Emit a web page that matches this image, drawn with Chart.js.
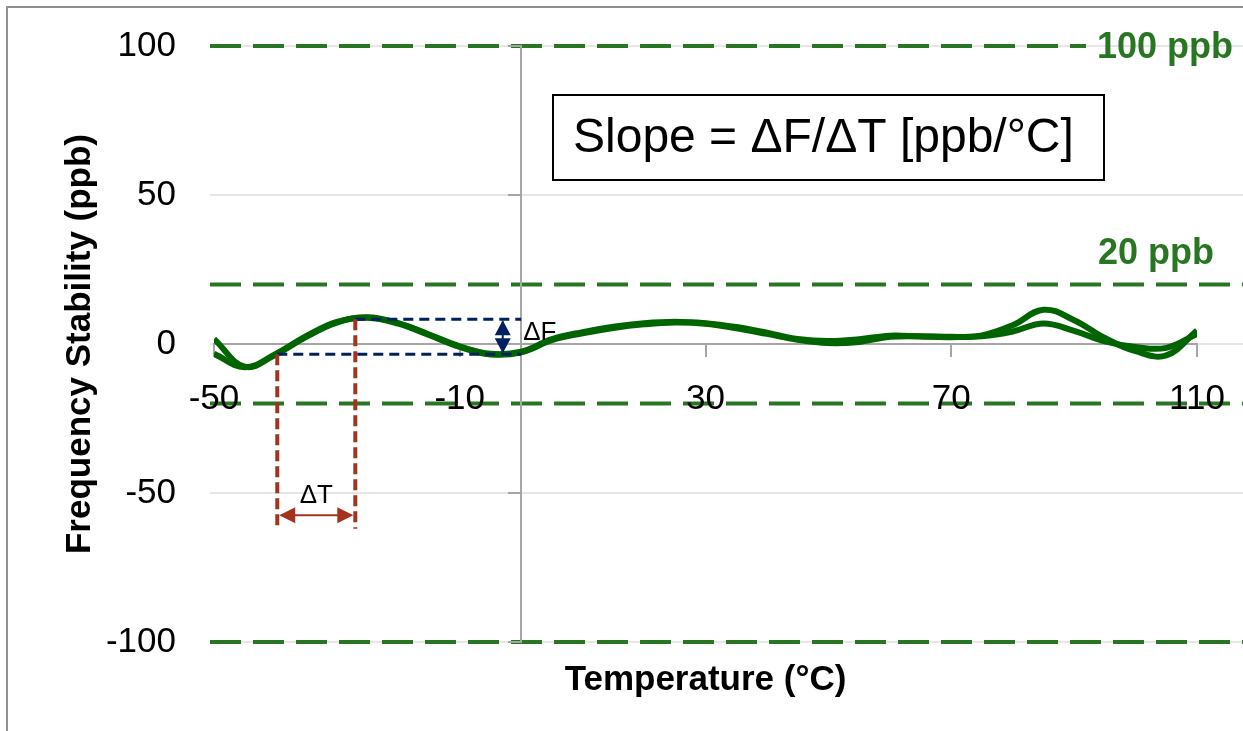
<!DOCTYPE html>
<html>
<head>
<meta charset="utf-8">
<title>Frequency Stability vs Temperature</title>
<script src="https://cdn.jsdelivr.net/npm/chart.js@4/dist/chart.umd.min.js"></script>
<style>
  html, body { margin: 0; padding: 0; background: #fff; overflow: hidden; }
  #wrap { position: relative; width: 1243px; height: 731px; }
  #wrap canvas { position: absolute; left: 0; top: 0; }
  #frame { position: absolute; left: 6px; top: 6px; right: 0; bottom: 0;
           border-left: 2px solid #8f8f8f; border-top: 2px solid #8f8f8f; pointer-events: none; }
</style>
</head>
<body>
<div id="wrap">
  <canvas id="chart" width="1243" height="731"></canvas>
  <div id="frame"></div>
</div>
<script>
// Temperature sweep (°C) and the two measured frequency-stability traces (ppb)
const temperatures = [-50, -45, -40, -35, -30, -25, -20, -15, -10, -5, 0, 5, 10, 15, 20, 25, 30,
                      35, 40, 45, 50, 55, 60, 65, 70, 75, 80, 85, 90, 95, 100, 105, 110];
const stabilityA = [1.7, -7.6, -3.6, 2.4, 7.2, 9.0, 7.0, 3.2, -0.8, -3.3, -2.6, 1.6, 4.0, 5.8, 7.0, 7.5, 7.0,
                    5.7, 3.8, 1.7, 1.0, 1.6, 2.8, 2.5, 2.3, 2.9, 6.3, 11.5, 8.0, 2.0, -2.4, -3.8, 4.5];
const stabilityB = [-3.3, -7.8, -3.4, 2.6, 7.4, 8.8, 6.8, 3.0, -1.0, -3.5, -2.8, 1.3, 3.6, 5.4, 6.6, 7.2, 6.8,
                    5.3, 3.4, 1.4, 0.3, 0.7, 2.4, 2.6, 2.4, 2.6, 4.2, 6.9, 4.4, 0.9, -1.0, -1.3, 3.4];

// Axis ticks
const xTickValues = [-50, -10, 30, 70, 110];
const yTickValues = [-100, -50, 0, 50, 100];

// Specification limit lines (ppb) and their captions
const limitValues = [100, 20, -20, -100];
const limitCaptions = ['100 ppb', '20 ppb'];
const limitCaptionValues = [100, 20];

// Slope illustration: temperature span and frequency span
const deltaTemps = [-39.7, -27.0];
const deltaFreqs = [-3.4, 8.3];

const FONT = "'Liberation Sans', Arial, sans-serif";
const GREEN = 'rgb(40,118,34)';
const TRACE = 'rgb(0,100,0)';
const AXIS_GREY = '#a6a6a6';
const NAVY = '#002060';
const RUST = '#a5321f';

function dashedLine(ctx, x1, y1, x2, y2, color, width, dash, offset) {
  ctx.save();
  ctx.strokeStyle = color;
  ctx.lineWidth = width;
  ctx.setLineDash(dash);
  ctx.lineDashOffset = offset || 0;
  ctx.beginPath();
  ctx.moveTo(x1, y1);
  ctx.lineTo(x2, y2);
  ctx.stroke();
  ctx.restore();
}

function arrowHead(ctx, tipX, tipY, dirX, dirY, len, half, color) {
  // dir points from the tip back toward the shaft
  const px = -dirY, py = dirX;
  ctx.beginPath();
  ctx.moveTo(tipX, tipY);
  ctx.lineTo(tipX + dirX * len + px * half, tipY + dirY * len + py * half);
  ctx.lineTo(tipX + dirX * len - px * half, tipY + dirY * len - py * half);
  ctx.closePath();
  ctx.fillStyle = color;
  ctx.fill();
}

const backdrop = {
  id: 'backdrop',
  beforeDraw(chart) {
    const {ctx, scales: {x, y}} = chart;
    const left = x.getPixelForValue(-50) - 4;
    const right = chart.width;
    // light horizontal gridlines
    ctx.save();
    ctx.strokeStyle = '#e6e6e6';
    ctx.lineWidth = 2;
    yTickValues.forEach(v => {
      const py = Math.round(y.getPixelForValue(v));
      ctx.beginPath();
      ctx.moveTo(left, py);
      ctx.lineTo(right, py);
      ctx.stroke();
    });
    ctx.restore();
    // limit lines
    limitValues.forEach(v => {
      const py = y.getPixelForValue(v);
      const end = v === 100 ? 1086 : right;
      dashedLine(ctx, left, py, end, py, GREEN, 4, [31, 12], 0);
    });
    // captions
    ctx.save();
    ctx.fillStyle = GREEN;
    ctx.font = `bold 36px ${FONT}`;
    ctx.textAlign = 'right';
    ctx.textBaseline = 'middle';
    ctx.fillText(limitCaptions[0], 1233, y.getPixelForValue(limitCaptionValues[0]) + 2);
    ctx.fillText(limitCaptions[1], 1214, y.getPixelForValue(limitCaptionValues[1]) - 30);
    ctx.restore();
  }
};

const slopeSketch = {
  id: 'slopeSketch',
  afterDraw(chart) {
    const {ctx, scales: {x, y}} = chart;
    const x0 = x.getPixelForValue(0);
    const tA = x.getPixelForValue(deltaTemps[0]);
    const tB = x.getPixelForValue(deltaTemps[1]);
    const fA = y.getPixelForValue(deltaFreqs[0]);
    const fB = y.getPixelForValue(deltaFreqs[1]);

    // frequency span guides
    dashedLine(ctx, tA, fA, x0, fA, NAVY, 3, [10, 6]);
    dashedLine(ctx, tB, fB, x0, fB, NAVY, 3, [10, 6]);
    const ax = x.getPixelForValue(-3);
    ctx.save();
    ctx.strokeStyle = NAVY;
    ctx.lineWidth = 2;
    ctx.beginPath();
    ctx.moveTo(ax, fB + 2);
    ctx.lineTo(ax, fA - 2);
    ctx.stroke();
    arrowHead(ctx, ax, fB + 1, 0, 1, 15, 8, NAVY);
    arrowHead(ctx, ax, fA - 1, 0, -1, 15, 8, NAVY);
    ctx.fillStyle = '#000';
    ctx.font = `26px ${FONT}`;
    ctx.textAlign = 'left';
    ctx.textBaseline = 'middle';
    ctx.fillText('ΔF', x0 + 2, (fA + fB) / 2 - 4);
    ctx.restore();

    // temperature span guides
    const bottomA = y.getPixelForValue(-61);
    const bottomB = y.getPixelForValue(-62);
    dashedLine(ctx, tA, fA, tA, bottomA, RUST, 4, [11, 5]);
    dashedLine(ctx, tB, fB, tB, bottomB, RUST, 4, [11, 5]);
    const ay = y.getPixelForValue(-57.5);
    ctx.save();
    ctx.strokeStyle = RUST;
    ctx.lineWidth = 2;
    ctx.beginPath();
    ctx.moveTo(tA + 4, ay);
    ctx.lineTo(tB - 4, ay);
    ctx.stroke();
    arrowHead(ctx, tA + 2, ay, 1, 0, 16, 8, RUST);
    arrowHead(ctx, tB - 2, ay, -1, 0, 16, 8, RUST);
    ctx.fillStyle = '#000';
    ctx.font = `26px ${FONT}`;
    ctx.textAlign = 'center';
    ctx.textBaseline = 'middle';
    ctx.fillText('ΔT', (tA + tB) / 2, y.getPixelForValue(-51));
    ctx.restore();

    // slope definition box
    ctx.save();
    ctx.fillStyle = '#fff';
    ctx.fillRect(553, 95, 551, 85);
    ctx.strokeStyle = '#000';
    ctx.lineWidth = 2;
    ctx.strokeRect(553, 95, 551, 85);
    ctx.fillStyle = '#000';
    ctx.font = `48px ${FONT}`;
    ctx.textAlign = 'left';
    ctx.textBaseline = 'middle';
    ctx.fillText('Slope = ΔF/ΔT [ppb/°C]', 573, 139);
    ctx.restore();

    // horizontal axis title
    ctx.save();
    ctx.fillStyle = '#000';
    ctx.font = `bold 35px ${FONT}`;
    ctx.textAlign = 'center';
    ctx.textBaseline = 'middle';
    ctx.fillText('Temperature (°C)', (x.getPixelForValue(-50) + x.getPixelForValue(110)) / 2, 680);
    ctx.restore();
  }
};

const traceStyle = {
  borderColor: TRACE,
  borderWidth: 6,
  pointRadius: 0,
  tension: 0.4,
  fill: false
};

new Chart(document.getElementById('chart'), {
  type: 'line',
  data: {
    datasets: [
      Object.assign({ label: 'Unit A', data: temperatures.map((t, i) => ({x: t, y: stabilityA[i]})) }, traceStyle),
      Object.assign({ label: 'Unit B', data: temperatures.map((t, i) => ({x: t, y: stabilityB[i]})) }, traceStyle)
    ]
  },
  options: {
    responsive: false,
    devicePixelRatio: 1,
    animation: false,
    layout: { padding: { left: 0, top: 46, right: 46, bottom: 89 } },
    plugins: { legend: { display: false }, tooltip: { enabled: false } },
    scales: {
      x: {
        type: 'linear',
        min: -50,
        max: 110,
        position: { y: 0 },
        afterBuildTicks: s => { s.ticks = xTickValues.map(v => ({ value: v })); },
        grid: { drawOnChartArea: false, drawTicks: true, tickLength: 12, color: AXIS_GREY, lineWidth: 2 },
        border: { display: true, color: AXIS_GREY, width: 2 },
        ticks: { font: { family: FONT, size: 35, lineHeight: 2.4 }, color: '#000', padding: 1, maxRotation: 0, autoSkip: false }
      },
      y: {
        type: 'linear',
        min: -100,
        max: 100,
        position: 'left',
        afterBuildTicks: s => { s.ticks = yTickValues.map(v => ({ value: v })); },
        afterFit: s => { s.width = 214; },
        grid: { display: false, drawTicks: true, tickLength: 34 },
        border: { display: false },
        ticks: { font: { family: FONT, size: 35 }, color: '#000', padding: 4 },
        title: {
          display: true,
          text: 'Frequency Stability (ppb)',
          color: '#000',
          font: { family: FONT, size: 35, weight: 'bold' },
          padding: { top: 59, bottom: 0 }
        }
      },
      yCross: {
        type: 'linear',
        min: -100,
        max: 100,
        position: { x: 0 },
        afterBuildTicks: s => { s.ticks = yTickValues.map(v => ({ value: v })); },
        grid: { drawOnChartArea: false, drawTicks: true, tickLength: 12, color: AXIS_GREY, lineWidth: 2 },
        border: { display: true, color: AXIS_GREY, width: 2 },
        ticks: { display: false }
      }
    }
  },
  plugins: [backdrop, slopeSketch]
});
</script>
</body>
</html>
